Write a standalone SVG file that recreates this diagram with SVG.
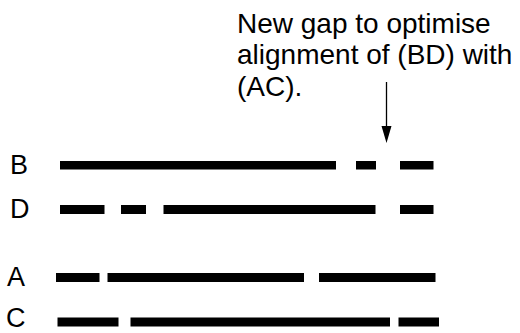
<svg xmlns="http://www.w3.org/2000/svg" width="520" height="333" viewBox="0 0 520 333">
<style>
text{font-family:"Liberation Sans",Arial,sans-serif;font-size:28px;fill:#000}
.lbl{font-size:27px}
.bar{fill:#000}
.conn{stroke:#000;stroke-width:1.3;fill:none}
</style>
<rect width="520" height="333" fill="#fff"/>
<g id="note">
<text x="237" y="32.5">New gap to optimise</text>
<text x="237" y="64">alignment of (BD) with</text>
<text x="237" y="95.5">(AC).</text>
</g>
<g id="connectors">
<line class="conn" x1="386.5" y1="82" x2="386.5" y2="127"/>
<path d="M381.5,126 L391.5,126 L386.5,143 Z" fill="#000"/>
</g>
<g id="rowB">
<text class="lbl" x="10" y="173.5">B</text>
<rect class="bar" x="60" y="161" width="276" height="8.5"/>
<rect class="bar" x="356" y="161" width="20" height="8.5"/>
<rect class="bar" x="400" y="161" width="33.5" height="8.5"/>
</g>
<g id="rowD">
<text class="lbl" x="10" y="217.5">D</text>
<rect class="bar" x="60" y="205" width="44.5" height="9"/>
<rect class="bar" x="121" y="205" width="25" height="9"/>
<rect class="bar" x="163.5" y="205" width="212" height="9"/>
<rect class="bar" x="400" y="205" width="33.5" height="9"/>
</g>
<g id="rowA">
<text class="lbl" x="7" y="286">A</text>
<rect class="bar" x="56" y="273" width="43.5" height="9"/>
<rect class="bar" x="107.5" y="273" width="196.5" height="9"/>
<rect class="bar" x="319" y="273" width="116.5" height="9"/>
</g>
<g id="rowC">
<text class="lbl" x="6" y="327">C</text>
<rect class="bar" x="57.5" y="317.5" width="61" height="9"/>
<rect class="bar" x="130.5" y="317.5" width="259.5" height="9"/>
<rect class="bar" x="398.5" y="317.5" width="40.5" height="9"/>
</g>
</svg>
